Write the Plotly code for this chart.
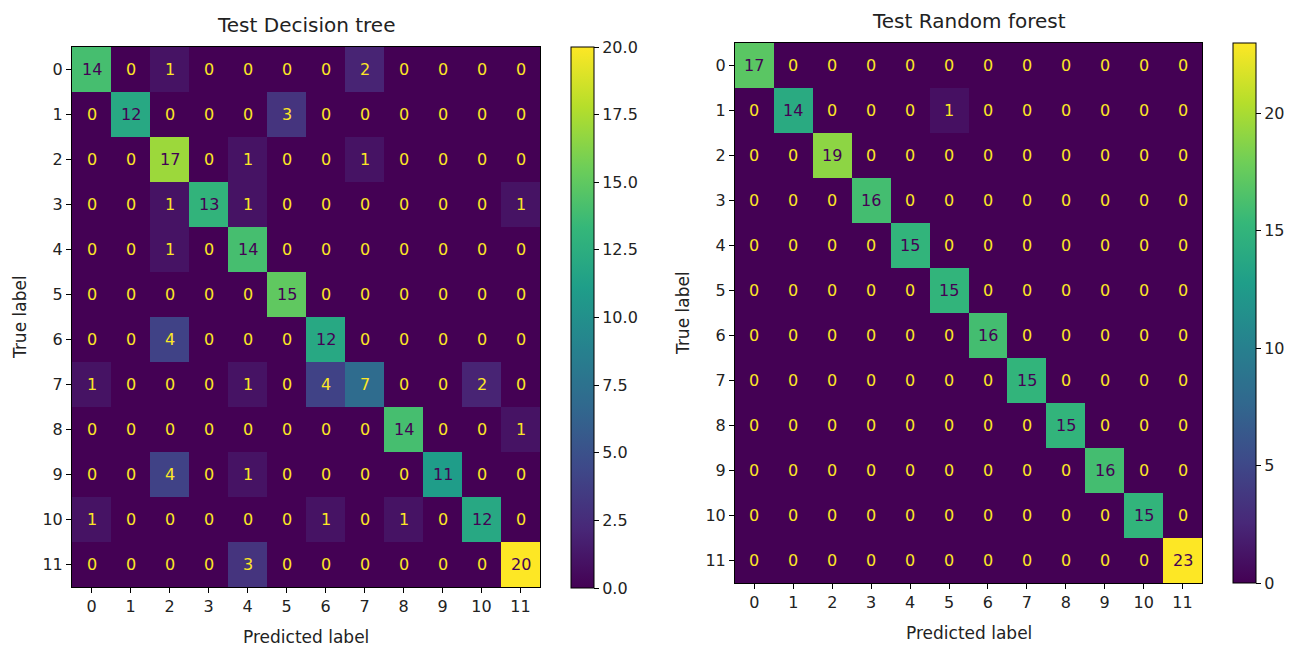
import plotly.graph_objects as go

labels = list(range(12))
tick_text = [str(i) for i in labels]

dt_matrix = [
    [14, 0, 1, 0, 0, 0, 0, 2, 0, 0, 0, 0],
    [0, 12, 0, 0, 0, 3, 0, 0, 0, 0, 0, 0],
    [0, 0, 17, 0, 1, 0, 0, 1, 0, 0, 0, 0],
    [0, 0, 1, 13, 1, 0, 0, 0, 0, 0, 0, 1],
    [0, 0, 1, 0, 14, 0, 0, 0, 0, 0, 0, 0],
    [0, 0, 0, 0, 0, 15, 0, 0, 0, 0, 0, 0],
    [0, 0, 4, 0, 0, 0, 12, 0, 0, 0, 0, 0],
    [1, 0, 0, 0, 1, 0, 4, 7, 0, 0, 2, 0],
    [0, 0, 0, 0, 0, 0, 0, 0, 14, 0, 0, 1],
    [0, 0, 4, 0, 1, 0, 0, 0, 0, 11, 0, 0],
    [1, 0, 0, 0, 0, 0, 1, 0, 1, 0, 12, 0],
    [0, 0, 0, 0, 3, 0, 0, 0, 0, 0, 0, 20],
]

rf_matrix = [
    [17, 0, 0, 0, 0, 0, 0, 0, 0, 0, 0, 0],
    [0, 14, 0, 0, 0, 1, 0, 0, 0, 0, 0, 0],
    [0, 0, 19, 0, 0, 0, 0, 0, 0, 0, 0, 0],
    [0, 0, 0, 16, 0, 0, 0, 0, 0, 0, 0, 0],
    [0, 0, 0, 0, 15, 0, 0, 0, 0, 0, 0, 0],
    [0, 0, 0, 0, 0, 15, 0, 0, 0, 0, 0, 0],
    [0, 0, 0, 0, 0, 0, 16, 0, 0, 0, 0, 0],
    [0, 0, 0, 0, 0, 0, 0, 15, 0, 0, 0, 0],
    [0, 0, 0, 0, 0, 0, 0, 0, 15, 0, 0, 0],
    [0, 0, 0, 0, 0, 0, 0, 0, 0, 16, 0, 0],
    [0, 0, 0, 0, 0, 0, 0, 0, 0, 0, 15, 0],
    [0, 0, 0, 0, 0, 0, 0, 0, 0, 0, 0, 23],
]

titles = ["Test Decision tree", "Test Random forest"]

W, H = 1292, 646
FONT = "DejaVu Sans"
TXT = "#222"
VIR_MIN = "#440154"
VIR_MAX = "#fde725"

# pixel boxes (left, top, right, bottom)
boxes = [(72, 47, 540, 587), (735, 43, 1202, 583)]
cbars = [(571, 47, 594, 588), (1233, 43, 1256, 583)]


def px(x):
    return x / W


def py(y):
    return (H - y) / H


fig = go.Figure()
annotations = []

for k, (mat, title) in enumerate(zip([dt_matrix, rf_matrix], titles)):
    xa = "x" if k == 0 else "x2"
    ya = "y" if k == 0 else "y2"
    zmax = max(max(r) for r in mat)
    zmin = min(min(r) for r in mat)
    cb = cbars[k]
    cb_kwargs = dict(
        x=px(cb[0]), xanchor="left", xref="paper",
        y=py(cb[3]), yanchor="bottom", yref="paper",
        thickness=cb[2] - cb[0], thicknessmode="pixels",
        len=cb[3] - cb[1], lenmode="pixels",
        outlinecolor="black", outlinewidth=1,
        ticks="outside", ticklen=5, tickcolor="black",
        tickfont=dict(family=FONT, size=16, color=TXT),
        xpad=0, ypad=0,
    )
    if k == 0:
        cb_kwargs.update(tick0=0, dtick=2.5, tickformat=".1f")
    else:
        cb_kwargs.update(tick0=0, dtick=5)
    fig.add_trace(go.Heatmap(
        z=mat, x=labels, y=labels,
        colorscale="Viridis", zmin=zmin, zmax=zmax,
        colorbar=cb_kwargs, xaxis=xa, yaxis=ya,
        hoverinfo="skip", xgap=0, ygap=0,
    ))
    thresh = (zmax + zmin) / 2.0
    for i, row in enumerate(mat):
        for j, v in enumerate(row):
            annotations.append(dict(
                x=labels[j], y=labels[i], xref=xa, yref=ya,
                text=str(v), showarrow=False,
                font=dict(family=FONT, size=16,
                          color=VIR_MAX if v < thresh else VIR_MIN),
            ))
    b = boxes[k]
    xd = "x domain" if k == 0 else "x2 domain"
    yd = "y domain" if k == 0 else "y2 domain"
    annotations.append(dict(
        x=0.5, y=1, xref=xd, yref=yd, xanchor="center", yanchor="bottom",
        yshift=8, text=title, showarrow=False,
        font=dict(family=FONT, size=20, color=TXT),
    ))
    annotations.append(dict(
        x=0.5, y=0, xref=xd, yref=yd, xanchor="center", yanchor="top",
        yshift=-38, text="Predicted label", showarrow=False,
        font=dict(family=FONT, size=17, color=TXT),
    ))
    annotations.append(dict(
        x=px(b[0] - 52), y=0.5, xref="paper", yref=yd,
        xanchor="center", yanchor="middle", textangle=-90,
        text="True label", showarrow=False,
        font=dict(family=FONT, size=17, color=TXT),
    ))

axis_common = dict(
    showline=True, linecolor="black", linewidth=1, mirror=True,
    ticks="outside", ticklen=5, tickcolor="black",
    tickfont=dict(family=FONT, size=16, color=TXT),
    showgrid=False, zeroline=False,
    tickmode="array", tickvals=labels, ticktext=tick_text,
)

b0, b1 = boxes
fig.update_layout(
    width=W, height=H,
    margin=dict(l=0, r=0, t=0, b=0),
    paper_bgcolor="white", plot_bgcolor="white",
    showlegend=False,
    xaxis=dict(domain=[px(b0[0]), px(b0[2])], range=[-0.5, 11.5], anchor="y", **axis_common),
    yaxis=dict(domain=[py(b0[3]), py(b0[1])], range=[11.5, -0.5], anchor="x", **axis_common),
    xaxis2=dict(domain=[px(b1[0]), px(b1[2])], range=[-0.5, 11.5], anchor="y2", **axis_common),
    yaxis2=dict(domain=[py(b1[3]), py(b1[1])], range=[11.5, -0.5], anchor="x2", **axis_common),
    annotations=annotations,
)

fig.write_html("out.html")
